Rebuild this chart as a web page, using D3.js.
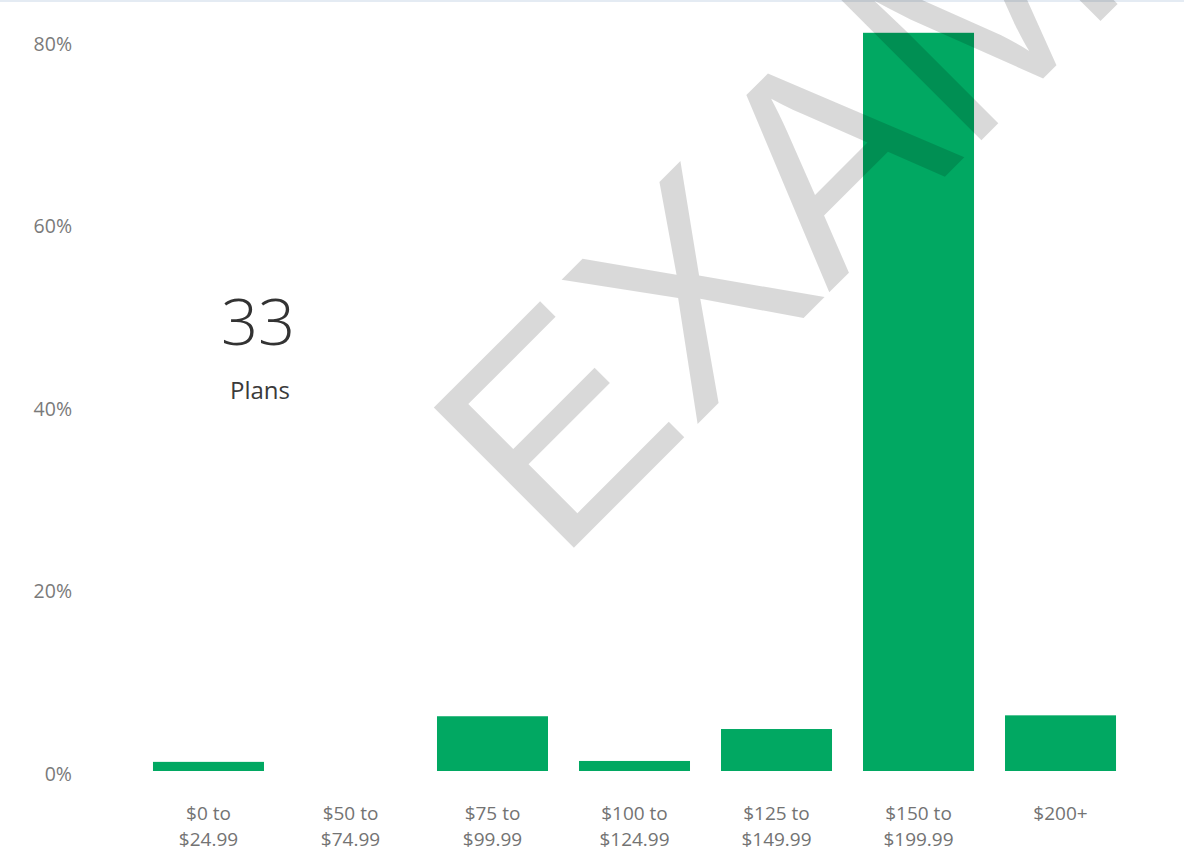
<!DOCTYPE html>
<html>
<head>
<meta charset="utf-8">
<script src="https://cdn.jsdelivr.net/npm/d3@7"></script>
<style>
  html, body { margin: 0; padding: 0; background: #ffffff; }
  svg { display: block; }
</style>
</head>
<body>
<svg id="chart" width="1184" height="865"></svg>
<script>
// ---- data ----
const categories = ["$0 to $24.99", "$50 to $74.99", "$75 to $99.99", "$100 to $124.99", "$125 to $149.99", "$150 to $199.99", "$200+"];
const shares = [0.010, 0.000, 0.060, 0.011, 0.046, 0.809, 0.061];
const yTicks = [0, 0.2, 0.4, 0.6, 0.8];
const kpiValue = "33";
const kpiLabel = "Plans";
const watermark = "EXAMPLE";

const svg = d3.select("#chart");
const W = 1184, H = 865;

// top border line
svg.append("rect").attr("x", 0).attr("y", 0).attr("width", W).attr("height", 2).attr("fill", "#e4ebf3");

const x = d3.scaleBand().domain(categories).range([137.5, 1131.5]).paddingInner(0.2183).paddingOuter(0.109);
const y = d3.scaleLinear().domain([0, 0.8]).range([771, 41]);

// y axis
const yAxis = svg.append("g").attr("transform", "translate(72,0)")
  .call(d3.axisLeft(y).tickValues(yTicks).tickFormat(d3.format(".0%")).tickSize(0).tickPadding(0));
yAxis.select(".domain").remove();
yAxis.selectAll("text")
  .attr("dy", "0.47em")
  .attr("fill", "#7a7a7a")
  .style("font-family", "'Open Sans', 'Noto Sans', sans-serif")
  .style("font-size", "19.5px");

// bars
svg.append("g").selectAll("rect").data(categories).join("rect")
  .attr("x", d => x(d))
  .attr("width", x.bandwidth())
  .attr("y", (d, i) => y(shares[i]))
  .attr("height", (d, i) => y(0) - y(shares[i]))
  .attr("fill", "#01a862");

// x axis
const xAxis = svg.append("g").attr("transform", "translate(0,771)")
  .call(d3.axisBottom(x).tickSize(0).tickPadding(0));
xAxis.select(".domain").remove();
xAxis.selectAll("text").each(function(d) {
  const t = d3.select(this);
  const idx = d.indexOf(" to ");
  const lines = idx >= 0 ? [d.slice(0, idx + 3), d.slice(idx + 4)] : [d];
  t.text(null).attr("y", 0).attr("dy", null);
  lines.forEach((ln, k) => {
    t.append("tspan").attr("x", 0).attr("y", 49 + k * 26).text(ln);
  });
})
  .attr("fill", "#737373")
  .style("font-family", "'Open Sans', 'Noto Sans', sans-serif")
  .style("font-size", "19px");

// KPI card text
svg.append("text").attr("x", 258).attr("y", 345).attr("text-anchor", "middle")
  .attr("fill", "#333333")
  .style("font-family", "'Open Sans', 'Noto Sans', sans-serif")
  .style("font-weight", 300).style("font-size", "65px")
  .text(kpiValue);
svg.append("text").attr("x", 260).attr("y", 399).attr("text-anchor", "middle")
  .attr("fill", "#3a3a3a")
  .style("font-family", "'Open Sans', 'Noto Sans', sans-serif")
  .style("font-size", "24px")
  .text(kpiLabel);

// watermark
svg.append("text")
  .attr("transform", "translate(557.2,564.4) rotate(-45)")
  .attr("fill", "#000000").attr("fill-opacity", 0.15)
  .style("font-family", "'Liberation Sans', Arial, sans-serif")
  .style("font-size", "288px")
  .text(watermark);
</script>
</body>
</html>
